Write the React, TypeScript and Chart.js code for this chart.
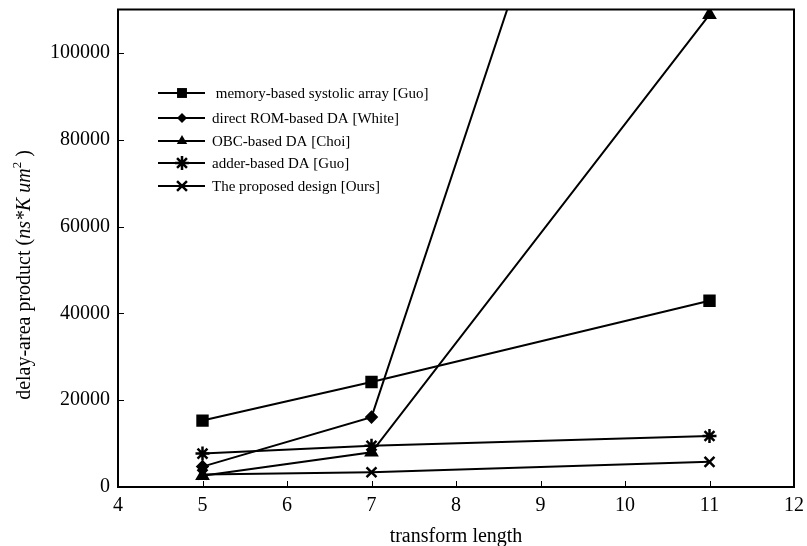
import React, { useEffect, useRef } from "react";
import { Chart, registerables } from "chart.js";

Chart.register(...registerables);

// ---- data ----
const transformLengths = [5, 7, 11];
const memoryBasedSystolic = [15300, 24200, 42900];
const directRomDA = [4700, 16100, 250000];
const obcBasedDA = [2600, 8000, 108800];
const adderBasedDA = [7700, 9500, 11750];
const proposedDesign = [2900, 3400, 5800];

const seriesLabels = [
  " memory-based systolic array [Guo]",
  "direct ROM-based DA [White]",
  "OBC-based DA [Choi]",
  "adder-based DA [Guo]",
  "The proposed design [Ours]",
];
const seriesValues = [memoryBasedSystolic, directRomDA, obcBasedDA, adderBasedDA, proposedDesign];
const pointStyles = ["rect", "rectRot", "triangle", "star", "crossRot"];
const pointRadii = [7, 5, 6, 7, 7];

const xTickValues = [4, 5, 6, 7, 8, 9, 10, 11, 12];
const yTickValues = [0, 20000, 40000, 60000, 80000, 100000];
const xMin = 4;
const xMax = 12;
const yMin = 0;
const yMax = 110000;

const xTitle = "transform length";
const yTitleParts = [
  { text: "delay-area product (", italic: false, sup: false },
  { text: "ns*K um", italic: true, sup: false },
  { text: "2", italic: false, sup: true },
  { text: " )", italic: false, sup: false },
];

const FONT = "'Liberation Serif', 'Times New Roman', serif";

function drawMarker(ctx: CanvasRenderingContext2D, style: string, x: number, y: number, r: number) {
  ctx.beginPath();
  if (style === "rect") {
    const s = Math.SQRT1_2 * r;
    ctx.rect(x - s, y - s, 2 * s, 2 * s);
    ctx.fill();
  } else if (style === "rectRot") {
    ctx.moveTo(x, y - r);
    ctx.lineTo(x + r, y);
    ctx.lineTo(x, y + r);
    ctx.lineTo(x - r, y);
    ctx.closePath();
    ctx.fill();
  } else if (style === "triangle") {
    ctx.moveTo(x, y - r);
    ctx.lineTo(x + 0.866 * r, y + 0.5 * r);
    ctx.lineTo(x - 0.866 * r, y + 0.5 * r);
    ctx.closePath();
    ctx.fill();
  } else if (style === "star") {
    const d = Math.SQRT1_2 * r;
    ctx.moveTo(x, y - r); ctx.lineTo(x, y + r);
    ctx.moveTo(x - r, y); ctx.lineTo(x + r, y);
    ctx.moveTo(x - d, y - d); ctx.lineTo(x + d, y + d);
    ctx.moveTo(x - d, y + d); ctx.lineTo(x + d, y - d);
    ctx.stroke();
  } else if (style === "crossRot") {
    const d = Math.SQRT1_2 * r;
    ctx.moveTo(x - d, y - d); ctx.lineTo(x + d, y + d);
    ctx.moveTo(x - d, y + d); ctx.lineTo(x + d, y - d);
    ctx.stroke();
  }
}

const decorPlugin = {
  id: "decor",
  afterDraw(chart: any) {
    const { ctx, chartArea: a, scales } = chart;
    ctx.save();
    ctx.strokeStyle = "#000";
    ctx.fillStyle = "#000";
    // frame
    ctx.lineWidth = 2;
    ctx.strokeRect(a.left, a.top, a.right - a.left, a.bottom - a.top);
    // inward ticks
    ctx.lineWidth = 1;
    ctx.beginPath();
    yTickValues.forEach((v) => {
      const y = Math.round(scales.y.getPixelForValue(v)) + 0.5;
      ctx.moveTo(a.left, y);
      ctx.lineTo(a.left + 6, y);
    });
    xTickValues.forEach((v) => {
      const x = Math.round(scales.x.getPixelForValue(v)) + 0.5;
      ctx.moveTo(x, a.bottom);
      ctx.lineTo(x, a.bottom - 6);
    });
    ctx.stroke();

    // legend
    const rowY = [93, 118, 141, 163, 186];
    ctx.font = `15px ${FONT}`;
    ctx.textBaseline = "middle";
    ctx.textAlign = "left";
    seriesLabels.forEach((lab, i) => {
      const y = rowY[i];
      ctx.lineWidth = 2;
      ctx.beginPath();
      ctx.moveTo(158, y);
      ctx.lineTo(205, y);
      ctx.stroke();
      ctx.lineWidth = 2.5;
      drawMarker(ctx, pointStyles[i], 182, y, pointRadii[i]);
      ctx.fillText(lab, 212, y + 1);
    });

    // x title
    ctx.font = `20px ${FONT}`;
    ctx.textAlign = "center";
    ctx.textBaseline = "middle";
    ctx.fillText(xTitle, (a.left + a.right) / 2, 537);

    // y title (rotated, mixed styles)
    ctx.translate(25, 275);
    ctx.rotate(-Math.PI / 2);
    const fonts = yTitleParts.map((p) =>
      p.sup ? `13px ${FONT}` : p.italic ? `italic 20px ${FONT}` : `20px ${FONT}`
    );
    let total = 0;
    const widths = yTitleParts.map((p, i) => {
      ctx.font = fonts[i];
      const w = ctx.measureText(p.text).width;
      total += w;
      return w;
    });
    let cx = -total / 2;
    ctx.textAlign = "left";
    yTitleParts.forEach((p, i) => {
      ctx.font = fonts[i];
      ctx.fillText(p.text, cx, p.sup ? -7 : 0);
      cx += widths[i];
    });
    ctx.restore();
  },
};

export default function App() {
  const ref = useRef<HTMLCanvasElement | null>(null);
  useEffect(() => {
    if (!ref.current) return;
    const chart = new Chart(ref.current, {
      type: "line",
      data: {
        datasets: seriesValues.map((vals, i) => ({
          label: seriesLabels[i],
          data: transformLengths.map((x, j) => ({ x, y: vals[j] })),
          borderColor: "#000",
          backgroundColor: "#000",
          borderWidth: 2,
          pointStyle: pointStyles[i] as any,
          pointRadius: pointRadii[i],
          pointBorderWidth: 2.5,
          pointBorderColor: "#000",
          pointBackgroundColor: "#000",
          tension: 0,
          fill: false,
        })),
      },
      options: {
        animation: false,
        responsive: false,
        maintainAspectRatio: false,
        devicePixelRatio: 1,
        layout: { padding: { top: 9, right: 13, left: 0, bottom: 0 } },
        plugins: {
          legend: { display: false },
          tooltip: { enabled: false },
        },
        scales: {
          x: {
            type: "linear",
            min: xMin,
            max: xMax,
            afterBuildTicks: (s: any) => {
              s.ticks = xTickValues.map((v) => ({ value: v }));
            },
            afterFit: (s: any) => {
              s.height = 59;
              s.paddingLeft = 0;
              s.paddingRight = 0;
            },
            ticks: {
              autoSkip: false,
              maxRotation: 0,
              color: "#000",
              padding: 7,
              font: { family: FONT, size: 20 },
              callback: (v: any) => String(v),
            },
            grid: { display: false, drawTicks: false },
            border: { display: false },
          },
          y: {
            type: "linear",
            min: yMin,
            max: yMax,
            afterBuildTicks: (s: any) => {
              s.ticks = yTickValues.map((v) => ({ value: v }));
            },
            afterFit: (s: any) => {
              s.width = 118;
              s.paddingTop = 0;
              s.paddingBottom = 0;
            },
            ticks: {
              autoSkip: false,
              color: "#000",
              padding: 8,
              font: { family: FONT, size: 20 },
              callback: (v: any) => String(v),
            },
            grid: { display: false, drawTicks: false },
            border: { display: false },
          },
        },
      },
      plugins: [decorPlugin],
    });
    return () => chart.destroy();
  }, []);
  return (
    <div style={{ position: "fixed", left: 0, top: 0, width: 807, height: 546, background: "#fff" }}>
      <canvas ref={ref} width={807} height={546} style={{ display: "block" }} />
    </div>
  );
}
